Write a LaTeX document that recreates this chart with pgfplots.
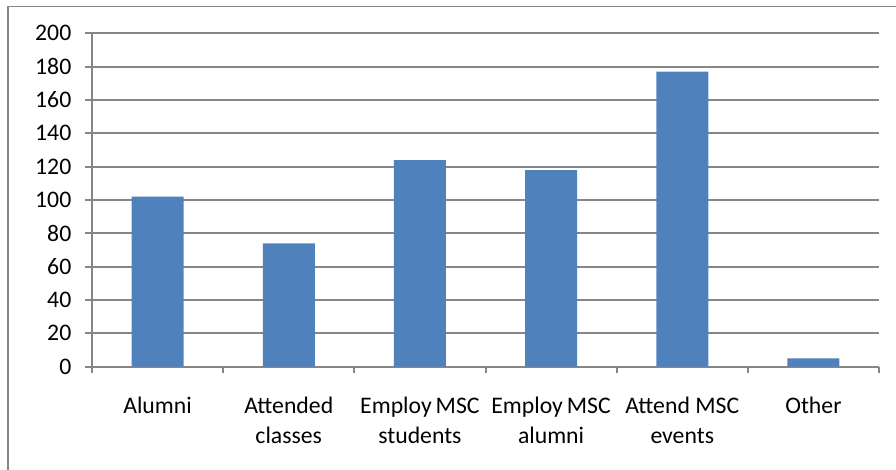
\documentclass[border=0pt]{standalone}
\usepackage{pgfplots}
\pgfplotsset{compat=1.18}
\usepackage{fontspec}
\setmainfont{Carlito}
\definecolor{barblue}{HTML}{4F81BD}
\definecolor{gridgray}{HTML}{868686}
\begin{document}
\begin{tikzpicture}
\useasboundingbox (0,0) rectangle (672pt,351.75pt);
\draw[gridgray, line width=1.4pt] (6pt,-20pt) |- (700pt,346.9pt);
\begin{axis}[
  at={(69pt,76.75pt)}, anchor=south west,
  scale only axis, width=590.25pt, height=250pt,
  xmin=-0.5, xmax=5.5, ymin=0, ymax=200,
  ytick={0,20,...,200},
  ymajorgrids, grid style={gridgray, line width=1.5pt},
  axis lines*=left,
  axis line style={gridgray, line width=1.5pt},
  tick align=outside, major tick length=5pt,
  tick style={gridgray, line width=1.5pt},
  xtick={-0.5,0.5,...,5.5}, xticklabels={},
  extra x ticks={0,1,2,3,4,5},
  extra x tick labels={Alumni,{Attended\\classes},{Employ\,MSC\\students},{Employ\,MSC\\alumni},{Attend MSC\\events},Other},
  extra x tick style={major tick length=0pt, grid=none,
    xticklabel style={align=center, yshift=-19pt}},
  /pgf/number format/assume math mode=true,
  ticklabel style={font=\fontsize{17.8}{22.5}\selectfont, text=black},
  yticklabel style={xshift=-7pt},
  ybar, bar width=39pt,
]
\addplot[fill=barblue, draw=none] coordinates {(0,102) (1,74) (2,124) (3,118) (4,177) (5,5)};
\end{axis}
\end{tikzpicture}
\end{document}
